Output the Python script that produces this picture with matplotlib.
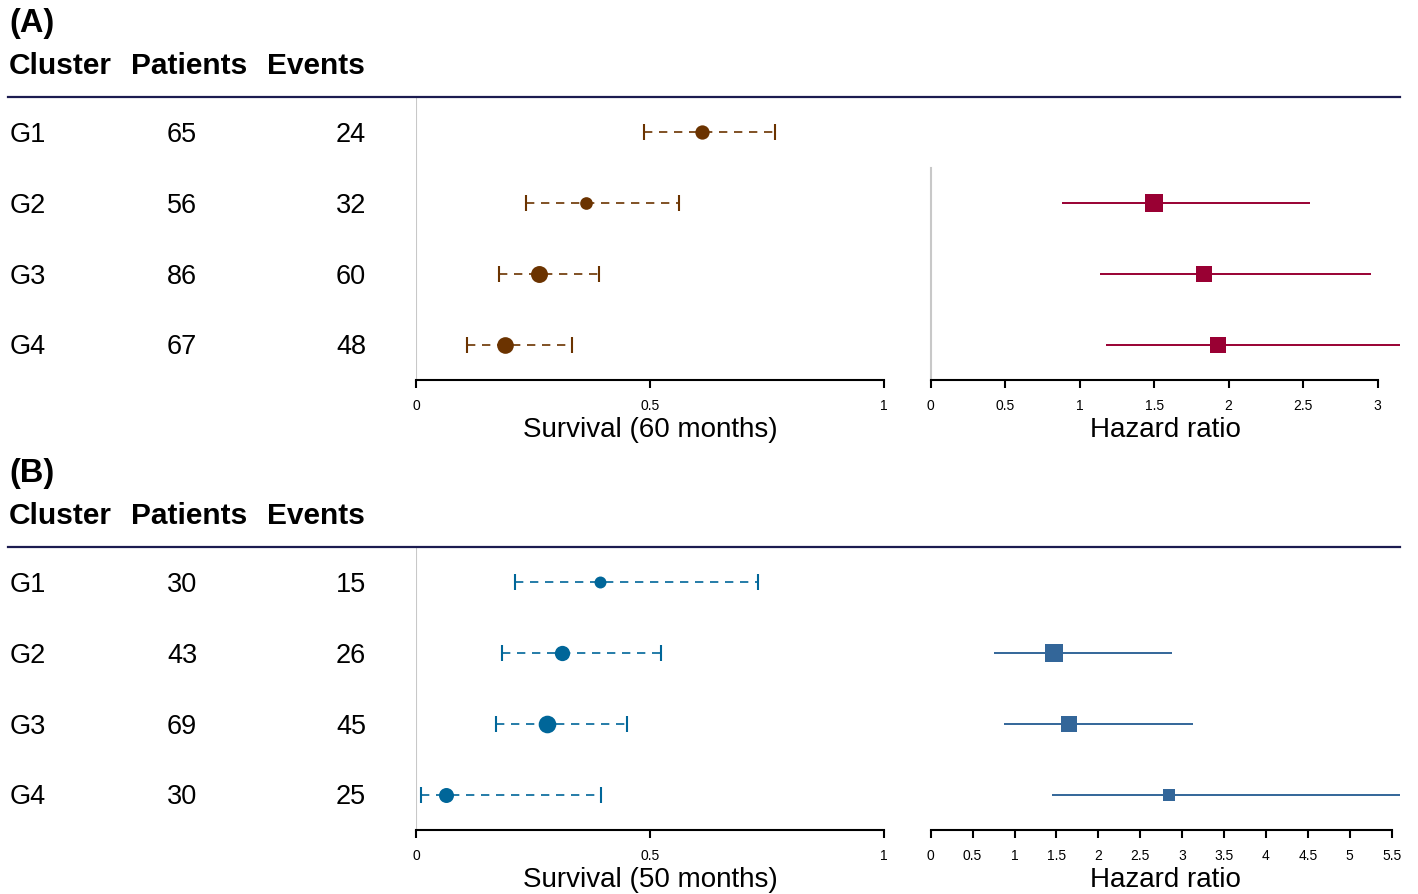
import matplotlib.pyplot as plt
from matplotlib.lines import Line2D
import numpy as np

plt.rcParams['font.family'] = ['Liberation Sans', 'DejaVu Sans']

clusters = ['G1', 'G2', 'G3', 'G4']

# (A) cohort - 60 months
patients_a = [65, 56, 86, 67]
events_a = [24, 32, 60, 48]
surv_a = [0.611, 0.364, 0.263, 0.190]
surv_lo_a = [0.487, 0.236, 0.177, 0.108]
surv_hi_a = [0.767, 0.561, 0.390, 0.333]
hr_a = [1.499, 1.832, 1.926]          # G2..G4 vs G1
hr_lo_a = [0.879, 1.134, 1.177]
hr_hi_a = [2.548, 2.953, 3.30]

# (B) cohort - 50 months
patients_b = [30, 43, 69, 30]
events_b = [15, 26, 45, 25]
surv_b = [0.393, 0.311, 0.279, 0.065]
surv_lo_b = [0.212, 0.184, 0.172, 0.011]
surv_hi_b = [0.731, 0.523, 0.451, 0.395]
hr_b = [1.475, 1.654, 2.847]
hr_lo_b = [0.752, 0.875, 1.444]
hr_hi_b = [2.876, 3.134, 5.80]

W, H = 1418, 894
fig = plt.figure(figsize=(W / 100, H / 100), dpi=100)


def rect(left, top, right, bottom):
    return [left / W, 1 - bottom / H, (right - left) / W, (bottom - top) / H]


def fy(y):
    return 1 - y / H


def style_axis(ax, ticks, bound):
    for s in ['top', 'right', 'left']:
        ax.spines[s].set_visible(False)
    ax.spines['bottom'].set_linewidth(1.5)
    ax.spines['bottom'].set_bounds(0, bound)
    ax.set_yticks([])
    ax.set_xticks(ticks)
    ax.set_xticklabels([f'{t:g}' for t in ticks])
    ax.tick_params(axis='x', direction='out', length=6, width=1.5, labelsize=10, pad=7.5)
    ax.set_ylim(4.5, 0.5)


def draw_panel(top, tag, months, patients, events, surv, lo, hi, hr, hlo, hhi,
               c_surv, c_hr, surv_ms, hr_ms, hr_max, hr_xmax, zero_line):
    bottom = top + 283
    row_h = (bottom - top) / 4

    # table text
    fig.text(9 / W, fy(top - 65), tag, fontsize=23.5, fontweight='bold', va='baseline')
    for x, lab in zip([9, 131, 267], ['Cluster', 'Patients', 'Events']):
        fig.text(x / W, fy(top - 23), lab, fontsize=21.5, fontweight='bold', va='baseline')
    fig.add_artist(Line2D([8 / W, 1400 / W], [fy(top), fy(top)], color='#1c1c50', lw=1.6))
    for i, (c, p, e) in enumerate(zip(clusters, patients, events)):
        yb = fy(top + (i + 0.5) * row_h + 9.7)
        fig.text(10 / W, yb, c, fontsize=19.5, va='baseline')
        fig.text(167 / W, yb, str(p), fontsize=19.5, va='baseline')
        fig.text(366 / W, yb, str(e), fontsize=19.5, va='baseline', ha='right')

    rows = np.arange(1, 5)

    # survival
    ax = fig.add_axes(rect(416, top, 884, bottom))
    ax.set_xlim(0, 1)
    style_axis(ax, [0, 0.5, 1], 1)
    ax.axvline(0, color='#c8c8c8', lw=1.5, zorder=0)
    ax.hlines(rows, lo, hi, colors=c_surv, linestyles=(0, (5, 4)), lw=1.2)
    ax.plot(lo, rows, ls='none', marker='|', ms=11.5, mew=1.5, color=c_surv)
    ax.plot(hi, rows, ls='none', marker='|', ms=11.5, mew=1.5, color=c_surv)
    for r, v, ms in zip(rows, surv, surv_ms):
        ax.plot(v, r, 'o', ms=ms, mew=0, color=c_surv, zorder=3)
    ax.set_xlabel(f'Survival ({months} months)', fontsize=20, labelpad=3)

    # hazard ratio
    ax2 = fig.add_axes(rect(930.7, top, 1400, bottom))
    ax2.set_xlim(0, hr_xmax)
    style_axis(ax2, np.arange(0, hr_max + 0.01, 0.5), hr_max)
    if zero_line:
        ax2.plot([0, 0], [1.5, 4.5], color='#c8c8c8', lw=1.5, zorder=0, clip_on=False)
    hrows = rows[1:]
    ax2.hlines(hrows, hlo, hhi, colors=c_hr, lw=1.4)
    for r, v, ms in zip(hrows, hr, hr_ms):
        ax2.plot(v, r, 's', ms=ms, mew=0, color=c_hr, zorder=3)
    ax2.set_xlabel('Hazard ratio', fontsize=20, labelpad=3)


draw_panel(97, '(A)', 60, patients_a, events_a, surv_a, surv_lo_a, surv_hi_a,
           hr_a, hr_lo_a, hr_hi_a, '#6b3300', '#990033',
           [10.3, 9.1, 12.2, 12.0], [12.5, 11.7, 11.0], 3, 3.15, True)
draw_panel(547, '(B)', 50, patients_b, events_b, surv_b, surv_lo_b, surv_hi_b,
           hr_b, hr_lo_b, hr_hi_b, '#006699', '#336699',
           [8.6, 11.0, 12.7, 10.8], [12.5, 12.0, 8.1], 5.5, 5.6, False)

fig.savefig('out.png', dpi=100)
